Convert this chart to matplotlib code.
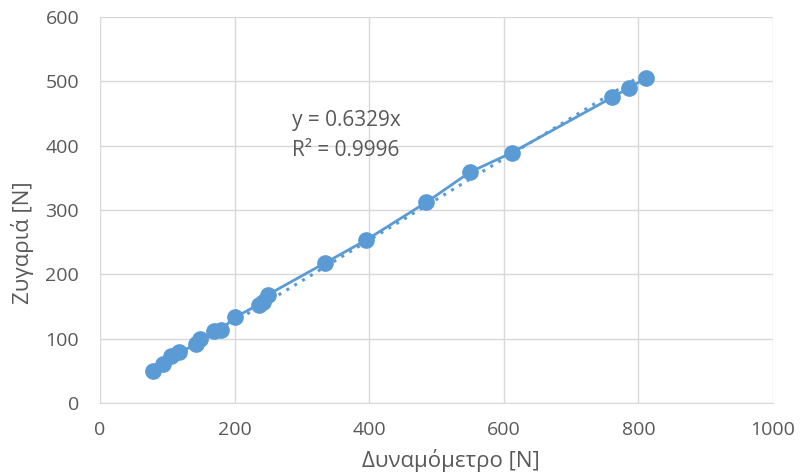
import matplotlib.pyplot as plt
import numpy as np

plt.rcParams['font.family'] = ['Open Sans', 'DejaVu Sans']

# readings: dynamometer vs scale
dyn = [79, 94, 106, 118, 143, 148, 170, 180, 200, 236, 242, 249,
       335, 395, 485, 550, 612, 761, 786, 812]
scale = [50, 61, 73, 79, 91, 99, 112, 114, 133, 153, 157, 168,
         218, 253, 312, 359, 389, 475, 490, 505]
slope = 0.6329
r2 = 0.9996

blue = '#5B9BD5'
grey = '#595959'
gridc = '#D9D9D9'

fig = plt.figure(figsize=(8.03, 4.76), dpi=100)
ax = fig.add_axes([0.1245, 0.1534, 0.8381, 0.8109])

trend_x = np.array([min(dyn), max(dyn)])
ax.plot(trend_x, slope * trend_x, linestyle=(0, (1, 2)), color=blue, lw=2.2, zorder=2)
ax.plot(dyn, scale, '-o', color=blue, lw=2, markersize=11, zorder=3)

ax.text(286, 439, f"y = {slope}x", color=grey, fontsize=15, va='center')
ax.text(286, 393, f"R² = {r2}", color=grey, fontsize=15, va='center')

ax.set_xlim(0, 1000)
ax.set_ylim(0, 600)
ax.set_xticks(range(0, 1001, 200))
ax.set_yticks(range(0, 601, 100))
ax.grid(True, color=gridc, lw=1)
ax.set_axisbelow(True)
for s in ['top', 'right', 'left']:
    ax.spines[s].set_visible(False)
ax.spines['bottom'].set_color(gridc)
ax.tick_params(length=0, colors=grey, labelsize=14)
ax.tick_params(axis='y', pad=15)
ax.tick_params(axis='x', pad=13)

ax.set_xlabel("Δυναμόμετρο [N]", color=grey, fontsize=16, va='center')
ax.set_ylabel("Ζυγαριά [N]", color=grey, fontsize=16, va='center')
ax.xaxis.set_label_coords(0.522, -0.148)
ax.yaxis.set_label_coords(-0.115, 0.415)

fig.savefig("out.png", dpi=100)
